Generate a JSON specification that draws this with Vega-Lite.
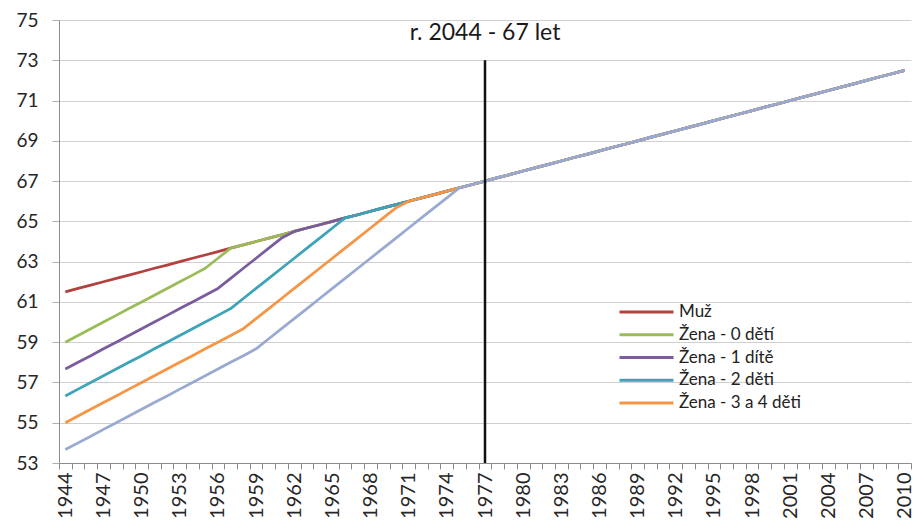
{
  "$schema": "https://vega.github.io/schema/vega-lite/v6.json",
  "width": 852,
  "height": 443,
  "autosize": "none",
  "padding": {"left": 59, "top": 20, "right": 4, "bottom": 62},
  "background": "white",
  "config": {"view": {"stroke": null}, "font": "Lato"},
  "layer": [
    {
      "data": {
        "values": [
          {"rok": 1944, "Muž": 61.5, "Žena - 0 dětí": 59, "Žena - 1 dítě": 57.67, "Žena - 2 děti": 56.33, "Žena - 3 a 4 děti": 55, "Žena - 5 a více dětí": 53.67},
          {"rok": 1945, "Muž": 61.67, "Žena - 0 dětí": 59.33, "Žena - 1 dítě": 58, "Žena - 2 děti": 56.67, "Žena - 3 a 4 děti": 55.33, "Žena - 5 a více dětí": 54},
          {"rok": 1946, "Muž": 61.83, "Žena - 0 dětí": 59.67, "Žena - 1 dítě": 58.33, "Žena - 2 děti": 57, "Žena - 3 a 4 děti": 55.67, "Žena - 5 a více dětí": 54.33},
          {"rok": 1947, "Muž": 62, "Žena - 0 dětí": 60, "Žena - 1 dítě": 58.67, "Žena - 2 děti": 57.33, "Žena - 3 a 4 děti": 56, "Žena - 5 a více dětí": 54.67},
          {"rok": 1948, "Muž": 62.17, "Žena - 0 dětí": 60.33, "Žena - 1 dítě": 59, "Žena - 2 děti": 57.67, "Žena - 3 a 4 děti": 56.33, "Žena - 5 a více dětí": 55},
          {"rok": 1949, "Muž": 62.33, "Žena - 0 dětí": 60.67, "Žena - 1 dítě": 59.33, "Žena - 2 děti": 58, "Žena - 3 a 4 děti": 56.67, "Žena - 5 a více dětí": 55.33},
          {"rok": 1950, "Muž": 62.5, "Žena - 0 dětí": 61, "Žena - 1 dítě": 59.67, "Žena - 2 děti": 58.33, "Žena - 3 a 4 děti": 57, "Žena - 5 a více dětí": 55.67},
          {"rok": 1951, "Muž": 62.67, "Žena - 0 dětí": 61.33, "Žena - 1 dítě": 60, "Žena - 2 děti": 58.67, "Žena - 3 a 4 děti": 57.33, "Žena - 5 a více dětí": 56},
          {"rok": 1952, "Muž": 62.83, "Žena - 0 dětí": 61.67, "Žena - 1 dítě": 60.33, "Žena - 2 děti": 59, "Žena - 3 a 4 děti": 57.67, "Žena - 5 a více dětí": 56.33},
          {"rok": 1953, "Muž": 63, "Žena - 0 dětí": 62, "Žena - 1 dítě": 60.67, "Žena - 2 děti": 59.33, "Žena - 3 a 4 děti": 58, "Žena - 5 a více dětí": 56.67},
          {"rok": 1954, "Muž": 63.17, "Žena - 0 dětí": 62.33, "Žena - 1 dítě": 61, "Žena - 2 děti": 59.67, "Žena - 3 a 4 děti": 58.33, "Žena - 5 a více dětí": 57},
          {"rok": 1955, "Muž": 63.33, "Žena - 0 dětí": 62.67, "Žena - 1 dítě": 61.33, "Žena - 2 děti": 60, "Žena - 3 a 4 děti": 58.67, "Žena - 5 a více dětí": 57.33},
          {"rok": 1956, "Muž": 63.5, "Žena - 0 dětí": 63.17, "Žena - 1 dítě": 61.67, "Žena - 2 děti": 60.33, "Žena - 3 a 4 děti": 59, "Žena - 5 a více dětí": 57.67},
          {"rok": 1957, "Muž": 63.67, "Žena - 0 dětí": 63.67, "Žena - 1 dítě": 62.17, "Žena - 2 děti": 60.67, "Žena - 3 a 4 děti": 59.33, "Žena - 5 a více dětí": 58},
          {"rok": 1958, "Muž": 63.83, "Žena - 0 dětí": 63.83, "Žena - 1 dítě": 62.67, "Žena - 2 děti": 61.17, "Žena - 3 a 4 děti": 59.67, "Žena - 5 a více dětí": 58.33},
          {"rok": 1959, "Muž": 64, "Žena - 0 dětí": 64, "Žena - 1 dítě": 63.17, "Žena - 2 děti": 61.67, "Žena - 3 a 4 děti": 60.17, "Žena - 5 a více dětí": 58.67},
          {"rok": 1960, "Muž": 64.17, "Žena - 0 dětí": 64.17, "Žena - 1 dítě": 63.67, "Žena - 2 děti": 62.17, "Žena - 3 a 4 děti": 60.67, "Žena - 5 a více dětí": 59.17},
          {"rok": 1961, "Muž": 64.33, "Žena - 0 dětí": 64.33, "Žena - 1 dítě": 64.17, "Žena - 2 děti": 62.67, "Žena - 3 a 4 děti": 61.17, "Žena - 5 a více dětí": 59.67},
          {"rok": 1962, "Muž": 64.5, "Žena - 0 dětí": 64.5, "Žena - 1 dítě": 64.5, "Žena - 2 děti": 63.17, "Žena - 3 a 4 děti": 61.67, "Žena - 5 a více dětí": 60.17},
          {"rok": 1963, "Muž": 64.67, "Žena - 0 dětí": 64.67, "Žena - 1 dítě": 64.67, "Žena - 2 děti": 63.67, "Žena - 3 a 4 děti": 62.17, "Žena - 5 a více dětí": 60.67},
          {"rok": 1964, "Muž": 64.83, "Žena - 0 dětí": 64.83, "Žena - 1 dítě": 64.83, "Žena - 2 děti": 64.17, "Žena - 3 a 4 děti": 62.67, "Žena - 5 a více dětí": 61.17},
          {"rok": 1965, "Muž": 65, "Žena - 0 dětí": 65, "Žena - 1 dítě": 65, "Žena - 2 děti": 64.67, "Žena - 3 a 4 děti": 63.17, "Žena - 5 a více dětí": 61.67},
          {"rok": 1966, "Muž": 65.17, "Žena - 0 dětí": 65.17, "Žena - 1 dítě": 65.17, "Žena - 2 děti": 65.17, "Žena - 3 a 4 děti": 63.67, "Žena - 5 a více dětí": 62.17},
          {"rok": 1967, "Muž": 65.33, "Žena - 0 dětí": 65.33, "Žena - 1 dítě": 65.33, "Žena - 2 děti": 65.33, "Žena - 3 a 4 děti": 64.17, "Žena - 5 a více dětí": 62.67},
          {"rok": 1968, "Muž": 65.5, "Žena - 0 dětí": 65.5, "Žena - 1 dítě": 65.5, "Žena - 2 děti": 65.5, "Žena - 3 a 4 děti": 64.67, "Žena - 5 a více dětí": 63.17},
          {"rok": 1969, "Muž": 65.67, "Žena - 0 dětí": 65.67, "Žena - 1 dítě": 65.67, "Žena - 2 děti": 65.67, "Žena - 3 a 4 děti": 65.17, "Žena - 5 a více dětí": 63.67},
          {"rok": 1970, "Muž": 65.83, "Žena - 0 dětí": 65.83, "Žena - 1 dítě": 65.83, "Žena - 2 děti": 65.83, "Žena - 3 a 4 děti": 65.67, "Žena - 5 a více dětí": 64.17},
          {"rok": 1971, "Muž": 66, "Žena - 0 dětí": 66, "Žena - 1 dítě": 66, "Žena - 2 děti": 66, "Žena - 3 a 4 děti": 66, "Žena - 5 a více dětí": 64.67},
          {"rok": 1972, "Muž": 66.17, "Žena - 0 dětí": 66.17, "Žena - 1 dítě": 66.17, "Žena - 2 děti": 66.17, "Žena - 3 a 4 děti": 66.17, "Žena - 5 a více dětí": 65.17},
          {"rok": 1973, "Muž": 66.33, "Žena - 0 dětí": 66.33, "Žena - 1 dítě": 66.33, "Žena - 2 děti": 66.33, "Žena - 3 a 4 děti": 66.33, "Žena - 5 a více dětí": 65.67},
          {"rok": 1974, "Muž": 66.5, "Žena - 0 dětí": 66.5, "Žena - 1 dítě": 66.5, "Žena - 2 děti": 66.5, "Žena - 3 a 4 děti": 66.5, "Žena - 5 a více dětí": 66.17},
          {"rok": 1975, "Muž": 66.67, "Žena - 0 dětí": 66.67, "Žena - 1 dítě": 66.67, "Žena - 2 děti": 66.67, "Žena - 3 a 4 děti": 66.67, "Žena - 5 a více dětí": 66.67},
          {"rok": 1976, "Muž": 66.83, "Žena - 0 dětí": 66.83, "Žena - 1 dítě": 66.83, "Žena - 2 děti": 66.83, "Žena - 3 a 4 děti": 66.83, "Žena - 5 a více dětí": 66.83},
          {"rok": 1977, "Muž": 67, "Žena - 0 dětí": 67, "Žena - 1 dítě": 67, "Žena - 2 děti": 67, "Žena - 3 a 4 děti": 67, "Žena - 5 a více dětí": 67},
          {"rok": 1978, "Muž": 67.17, "Žena - 0 dětí": 67.17, "Žena - 1 dítě": 67.17, "Žena - 2 děti": 67.17, "Žena - 3 a 4 děti": 67.17, "Žena - 5 a více dětí": 67.17},
          {"rok": 1979, "Muž": 67.33, "Žena - 0 dětí": 67.33, "Žena - 1 dítě": 67.33, "Žena - 2 děti": 67.33, "Žena - 3 a 4 děti": 67.33, "Žena - 5 a více dětí": 67.33},
          {"rok": 1980, "Muž": 67.5, "Žena - 0 dětí": 67.5, "Žena - 1 dítě": 67.5, "Žena - 2 děti": 67.5, "Žena - 3 a 4 děti": 67.5, "Žena - 5 a více dětí": 67.5},
          {"rok": 1981, "Muž": 67.67, "Žena - 0 dětí": 67.67, "Žena - 1 dítě": 67.67, "Žena - 2 děti": 67.67, "Žena - 3 a 4 děti": 67.67, "Žena - 5 a více dětí": 67.67},
          {"rok": 1982, "Muž": 67.83, "Žena - 0 dětí": 67.83, "Žena - 1 dítě": 67.83, "Žena - 2 děti": 67.83, "Žena - 3 a 4 děti": 67.83, "Žena - 5 a více dětí": 67.83},
          {"rok": 1983, "Muž": 68, "Žena - 0 dětí": 68, "Žena - 1 dítě": 68, "Žena - 2 děti": 68, "Žena - 3 a 4 děti": 68, "Žena - 5 a více dětí": 68},
          {"rok": 1984, "Muž": 68.17, "Žena - 0 dětí": 68.17, "Žena - 1 dítě": 68.17, "Žena - 2 děti": 68.17, "Žena - 3 a 4 děti": 68.17, "Žena - 5 a více dětí": 68.17},
          {"rok": 1985, "Muž": 68.33, "Žena - 0 dětí": 68.33, "Žena - 1 dítě": 68.33, "Žena - 2 děti": 68.33, "Žena - 3 a 4 děti": 68.33, "Žena - 5 a více dětí": 68.33},
          {"rok": 1986, "Muž": 68.5, "Žena - 0 dětí": 68.5, "Žena - 1 dítě": 68.5, "Žena - 2 děti": 68.5, "Žena - 3 a 4 děti": 68.5, "Žena - 5 a více dětí": 68.5},
          {"rok": 1987, "Muž": 68.67, "Žena - 0 dětí": 68.67, "Žena - 1 dítě": 68.67, "Žena - 2 děti": 68.67, "Žena - 3 a 4 děti": 68.67, "Žena - 5 a více dětí": 68.67},
          {"rok": 1988, "Muž": 68.83, "Žena - 0 dětí": 68.83, "Žena - 1 dítě": 68.83, "Žena - 2 děti": 68.83, "Žena - 3 a 4 děti": 68.83, "Žena - 5 a více dětí": 68.83},
          {"rok": 1989, "Muž": 69, "Žena - 0 dětí": 69, "Žena - 1 dítě": 69, "Žena - 2 děti": 69, "Žena - 3 a 4 děti": 69, "Žena - 5 a více dětí": 69},
          {"rok": 1990, "Muž": 69.17, "Žena - 0 dětí": 69.17, "Žena - 1 dítě": 69.17, "Žena - 2 děti": 69.17, "Žena - 3 a 4 děti": 69.17, "Žena - 5 a více dětí": 69.17},
          {"rok": 1991, "Muž": 69.33, "Žena - 0 dětí": 69.33, "Žena - 1 dítě": 69.33, "Žena - 2 děti": 69.33, "Žena - 3 a 4 děti": 69.33, "Žena - 5 a více dětí": 69.33},
          {"rok": 1992, "Muž": 69.5, "Žena - 0 dětí": 69.5, "Žena - 1 dítě": 69.5, "Žena - 2 děti": 69.5, "Žena - 3 a 4 děti": 69.5, "Žena - 5 a více dětí": 69.5},
          {"rok": 1993, "Muž": 69.67, "Žena - 0 dětí": 69.67, "Žena - 1 dítě": 69.67, "Žena - 2 děti": 69.67, "Žena - 3 a 4 děti": 69.67, "Žena - 5 a více dětí": 69.67},
          {"rok": 1994, "Muž": 69.83, "Žena - 0 dětí": 69.83, "Žena - 1 dítě": 69.83, "Žena - 2 děti": 69.83, "Žena - 3 a 4 děti": 69.83, "Žena - 5 a více dětí": 69.83},
          {"rok": 1995, "Muž": 70, "Žena - 0 dětí": 70, "Žena - 1 dítě": 70, "Žena - 2 děti": 70, "Žena - 3 a 4 děti": 70, "Žena - 5 a více dětí": 70},
          {"rok": 1996, "Muž": 70.17, "Žena - 0 dětí": 70.17, "Žena - 1 dítě": 70.17, "Žena - 2 děti": 70.17, "Žena - 3 a 4 děti": 70.17, "Žena - 5 a více dětí": 70.17},
          {"rok": 1997, "Muž": 70.33, "Žena - 0 dětí": 70.33, "Žena - 1 dítě": 70.33, "Žena - 2 děti": 70.33, "Žena - 3 a 4 děti": 70.33, "Žena - 5 a více dětí": 70.33},
          {"rok": 1998, "Muž": 70.5, "Žena - 0 dětí": 70.5, "Žena - 1 dítě": 70.5, "Žena - 2 děti": 70.5, "Žena - 3 a 4 děti": 70.5, "Žena - 5 a více dětí": 70.5},
          {"rok": 1999, "Muž": 70.67, "Žena - 0 dětí": 70.67, "Žena - 1 dítě": 70.67, "Žena - 2 děti": 70.67, "Žena - 3 a 4 děti": 70.67, "Žena - 5 a více dětí": 70.67},
          {"rok": 2000, "Muž": 70.83, "Žena - 0 dětí": 70.83, "Žena - 1 dítě": 70.83, "Žena - 2 děti": 70.83, "Žena - 3 a 4 děti": 70.83, "Žena - 5 a více dětí": 70.83},
          {"rok": 2001, "Muž": 71, "Žena - 0 dětí": 71, "Žena - 1 dítě": 71, "Žena - 2 děti": 71, "Žena - 3 a 4 děti": 71, "Žena - 5 a více dětí": 71},
          {"rok": 2002, "Muž": 71.17, "Žena - 0 dětí": 71.17, "Žena - 1 dítě": 71.17, "Žena - 2 děti": 71.17, "Žena - 3 a 4 děti": 71.17, "Žena - 5 a více dětí": 71.17},
          {"rok": 2003, "Muž": 71.33, "Žena - 0 dětí": 71.33, "Žena - 1 dítě": 71.33, "Žena - 2 děti": 71.33, "Žena - 3 a 4 děti": 71.33, "Žena - 5 a více dětí": 71.33},
          {"rok": 2004, "Muž": 71.5, "Žena - 0 dětí": 71.5, "Žena - 1 dítě": 71.5, "Žena - 2 děti": 71.5, "Žena - 3 a 4 děti": 71.5, "Žena - 5 a více dětí": 71.5},
          {"rok": 2005, "Muž": 71.67, "Žena - 0 dětí": 71.67, "Žena - 1 dítě": 71.67, "Žena - 2 děti": 71.67, "Žena - 3 a 4 děti": 71.67, "Žena - 5 a více dětí": 71.67},
          {"rok": 2006, "Muž": 71.83, "Žena - 0 dětí": 71.83, "Žena - 1 dítě": 71.83, "Žena - 2 děti": 71.83, "Žena - 3 a 4 děti": 71.83, "Žena - 5 a více dětí": 71.83},
          {"rok": 2007, "Muž": 72, "Žena - 0 dětí": 72, "Žena - 1 dítě": 72, "Žena - 2 děti": 72, "Žena - 3 a 4 děti": 72, "Žena - 5 a více dětí": 72},
          {"rok": 2008, "Muž": 72.17, "Žena - 0 dětí": 72.17, "Žena - 1 dítě": 72.17, "Žena - 2 děti": 72.17, "Žena - 3 a 4 děti": 72.17, "Žena - 5 a více dětí": 72.17},
          {"rok": 2009, "Muž": 72.33, "Žena - 0 dětí": 72.33, "Žena - 1 dítě": 72.33, "Žena - 2 děti": 72.33, "Žena - 3 a 4 děti": 72.33, "Žena - 5 a více dětí": 72.33},
          {"rok": 2010, "Muž": 72.5, "Žena - 0 dětí": 72.5, "Žena - 1 dítě": 72.5, "Žena - 2 děti": 72.5, "Žena - 3 a 4 děti": 72.5, "Žena - 5 a více dětí": 72.5}
        ]
      },
      "transform": [
        {"fold": ["Muž", "Žena - 0 dětí", "Žena - 1 dítě", "Žena - 2 děti", "Žena - 3 a 4 děti", "Žena - 5 a více dětí"], "as": ["rada", "vek"]}
      ],
      "mark": {"type": "line", "strokeWidth": 2.75, "strokeJoin": "round"},
      "encoding": {
        "x": {
          "field": "rok",
          "type": "ordinal",
          "scale": {"type": "band", "paddingInner": 0, "paddingOuter": 0},
          "axis": {
            "title": null,
            "tickBand": "extent",
            "labelAngle": -90,
            "labelExpr": "(datum.value - 1944) % 3 == 0 ? datum.label : ''",
            "labelFont": "Lato",
            "labelFontSize": 20,
            "labelColor": "#262626",
            "labelPadding": 3,
            "labelOverlap": false,
            "labelBound": false,
            "tickSize": 6,
            "tickColor": "#8C8C8C",
            "domainColor": "#8C8C8C",
            "grid": false
          }
        },
        "y": {
          "field": "vek",
          "type": "quantitative",
          "scale": {"domain": [53, 75], "nice": false, "zero": false},
          "axis": {
            "title": null,
            "values": [53, 55, 57, 59, 61, 63, 65, 67, 69, 71, 73, 75],
            "grid": true,
            "gridColor": "#CFCFCF",
            "gridWidth": 1,
            "domainColor": "#8C8C8C",
            "tickColor": "#B0B0B0",
            "tickSize": 7,
            "labelFont": "Lato",
            "labelFontSize": 19,
            "labelColor": "#262626",
            "labelPadding": 14
          }
        },
        "color": {
          "field": "rada",
          "type": "nominal",
          "scale": {
            "domain": ["Muž", "Žena - 0 dětí", "Žena - 1 dítě", "Žena - 2 děti", "Žena - 3 a 4 děti", "Žena - 5 a více dětí"],
            "range": ["#B3413F", "#9BBB59", "#7A5C9E", "#3CA3B8", "#F59545", "#99AAD2"]
          },
          "legend": {
            "title": null,
            "orient": "none",
            "legendX": 559,
            "legendY": 282,
            "values": ["Muž", "Žena - 0 dětí", "Žena - 1 dítě", "Žena - 2 děti", "Žena - 3 a 4 děti"],
            "symbolType": "stroke",
            "symbolSize": 2916,
            "symbolStrokeWidth": 3,
            "clipHeight": 20,
            "rowPadding": 2.75,
            "padding": 0,
            "labelFont": "Lato",
            "labelFontSize": 17,
            "labelColor": "#222222",
            "labelOffset": 4,
            "labelLimit": 300
          }
        }
      }
    },
    {
      "data": {"values": [{}]},
      "mark": {"type": "rule", "color": "#111111", "strokeWidth": 2.5},
      "encoding": {
        "x": {"datum": 1977, "type": "ordinal"},
        "y": {"datum": 73, "type": "quantitative"},
        "y2": {"datum": 53}
      }
    },
    {
      "data": {"values": [{}]},
      "mark": {"type": "text", "font": "Lato", "fontSize": 23, "color": "#1A1A1A", "baseline": "middle", "align": "center"},
      "encoding": {
        "x": {"datum": 1977, "type": "ordinal"},
        "y": {"datum": 74.35, "type": "quantitative"},
        "text": {"value": "r. 2044 - 67 let"}
      }
    }
  ]
}
